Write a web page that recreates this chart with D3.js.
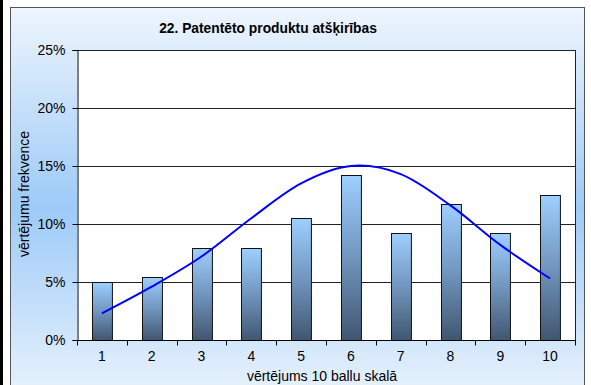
<!DOCTYPE html>
<html>
<head>
<meta charset="utf-8">
<script src="https://cdn.jsdelivr.net/npm/d3@7"></script>
<style>
  html, body { margin: 0; padding: 0; background: #fff; }
  svg { display: block; }
  text { font-family: "Liberation Sans", Arial, sans-serif; fill: #000; }
</style>
</head>
<body>
<svg id="chart" width="591" height="385"></svg>
<script>
// Rating scale (1–10) and share of respondents per rating
const categories = ["1", "2", "3", "4", "5", "6", "7", "8", "9", "10"];
const frequency = [0.050, 0.054, 0.079, 0.079, 0.105, 0.142, 0.092, 0.117, 0.092, 0.125];
// Fitted normal-distribution curve at each rating
const normalFit = [0.023, 0.046, 0.072, 0.105, 0.135, 0.150, 0.143, 0.116, 0.082, 0.053];
const yTicks = [0, 0.05, 0.10, 0.15, 0.20, 0.25];

const title = "22. Patentēto produktu atšķirības";
const yTitle = "vērtējumu frekvence";
const xTitle = "vērtējums 10 ballu skalā";

const svg = d3.select("#chart");
const plot = { left: 77, right: 575, top: 50, bottom: 340 };

// Background panel gradient
const defs = svg.append("defs");
const bg = defs.append("linearGradient").attr("id", "bgGrad")
  .attr("x1", 0).attr("y1", 0).attr("x2", 0).attr("y2", 1);
bg.append("stop").attr("offset", "0%").attr("stop-color", "#eef5fd");
bg.append("stop").attr("offset", "50%").attr("stop-color", "#9dcaf8");
bg.append("stop").attr("offset", "100%").attr("stop-color", "#edf5fd");

const barGrad = defs.append("linearGradient").attr("id", "barGrad")
  .attr("x1", 0).attr("y1", 0).attr("x2", 0).attr("y2", 1);
barGrad.append("stop").attr("offset", "0%").attr("stop-color", "#9dcfff");
barGrad.append("stop").attr("offset", "50%").attr("stop-color", "#7195be");
barGrad.append("stop").attr("offset", "100%").attr("stop-color", "#405670");

// Left edge rule
svg.append("rect").attr("x", 0).attr("y", 0).attr("width", 3).attr("height", 385).attr("fill", "#000");

// Chart panel
svg.append("rect")
  .attr("x", 10.5).attr("y", 7.5).attr("width", 574).attr("height", 400)
  .attr("fill", "url(#bgGrad)").attr("stroke", "#555").attr("stroke-width", 1);

// Plot area
svg.append("rect")
  .attr("x", plot.left).attr("y", plot.top)
  .attr("width", plot.right - plot.left).attr("height", plot.bottom - plot.top)
  .attr("fill", "#fff");

const x = d3.scaleBand().domain(categories)
  .range([plot.left, plot.right]).paddingInner(0.6).paddingOuter(0.3);
const y = d3.scaleLinear().domain([0, 0.25]).range([plot.bottom, plot.top]);

// Gridlines (top one doubles as the plot's upper border)
svg.append("g").selectAll("line").data(yTicks.filter(v => v > 0)).join("line")
  .attr("x1", plot.left).attr("x2", plot.right + 1)
  .attr("y1", d => Math.round(y(d)) + 0.5).attr("y2", d => Math.round(y(d)) + 0.5)
  .attr("stroke", "#222").attr("stroke-width", 1);

// Plot border (right edge)
svg.append("line")
  .attr("x1", plot.right + 0.5).attr("x2", plot.right + 0.5)
  .attr("y1", plot.top).attr("y2", plot.bottom)
  .attr("stroke", "#222");

// Bars
svg.append("g").selectAll("rect").data(frequency).join("rect")
  .attr("x", (d, i) => Math.round(x(categories[i])) + 0.5)
  .attr("y", d => Math.round(y(d)) + 0.5)
  .attr("width", x.bandwidth())
  .attr("height", d => plot.bottom - Math.round(y(d)))
  .attr("fill", "url(#barGrad)")
  .attr("stroke", "#111").attr("stroke-width", 1);

// Fitted curve
const line = d3.line()
  .x((d, i) => x(categories[i]) + x.bandwidth() / 2)
  .y(d => y(d))
  .curve(d3.curveCardinal.tension(0));
svg.append("path").datum(normalFit)
  .attr("d", line)
  .attr("fill", "none").attr("stroke", "#0000ff").attr("stroke-width", 2);

// Y axis
const yAxis = svg.append("g")
  .attr("transform", `translate(${plot.left + 0.5},0)`)
  .call(d3.axisLeft(y).tickValues(yTicks).tickFormat(d3.format(".0%")).tickSize(5).tickPadding(7));
yAxis.select(".domain").attr("stroke", "#000");
yAxis.selectAll(".tick line").attr("stroke", "#000");
yAxis.selectAll("text").style("font-size", "14px").attr("fill", "#000");

// X axis: labels centred on bars, ticks between categories
const xAxis = svg.append("g")
  .attr("transform", `translate(0,${plot.bottom + 0.5})`)
  .call(d3.axisBottom(x).tickSize(0).tickPadding(11));
xAxis.select(".domain").attr("stroke", "#000")
  .attr("d", `M${plot.left},0H${plot.right + 1}`);
xAxis.selectAll("text").style("font-size", "14px").attr("fill", "#000");
const step = x.step();
const boundaries = d3.range(categories.length + 1).map(i => plot.left + i * step);
xAxis.append("g").selectAll("line").data(boundaries).join("line")
  .attr("x1", d => Math.round(d) + 0.5).attr("x2", d => Math.round(d) + 0.5)
  .attr("y1", 0).attr("y2", 5).attr("stroke", "#000");

// Titles
svg.append("text").attr("x", 268).attr("y", 33).attr("text-anchor", "middle")
  .style("font-size", "13.8px").style("font-weight", "bold").text(title);
svg.append("text").attr("x", 322).attr("y", 381).attr("text-anchor", "middle")
  .style("font-size", "14px").text(xTitle);
svg.append("text")
  .attr("transform", "translate(29,194) rotate(-90)")
  .attr("text-anchor", "middle")
  .style("font-size", "14px").text(yTitle);
</script>
</body>
</html>
